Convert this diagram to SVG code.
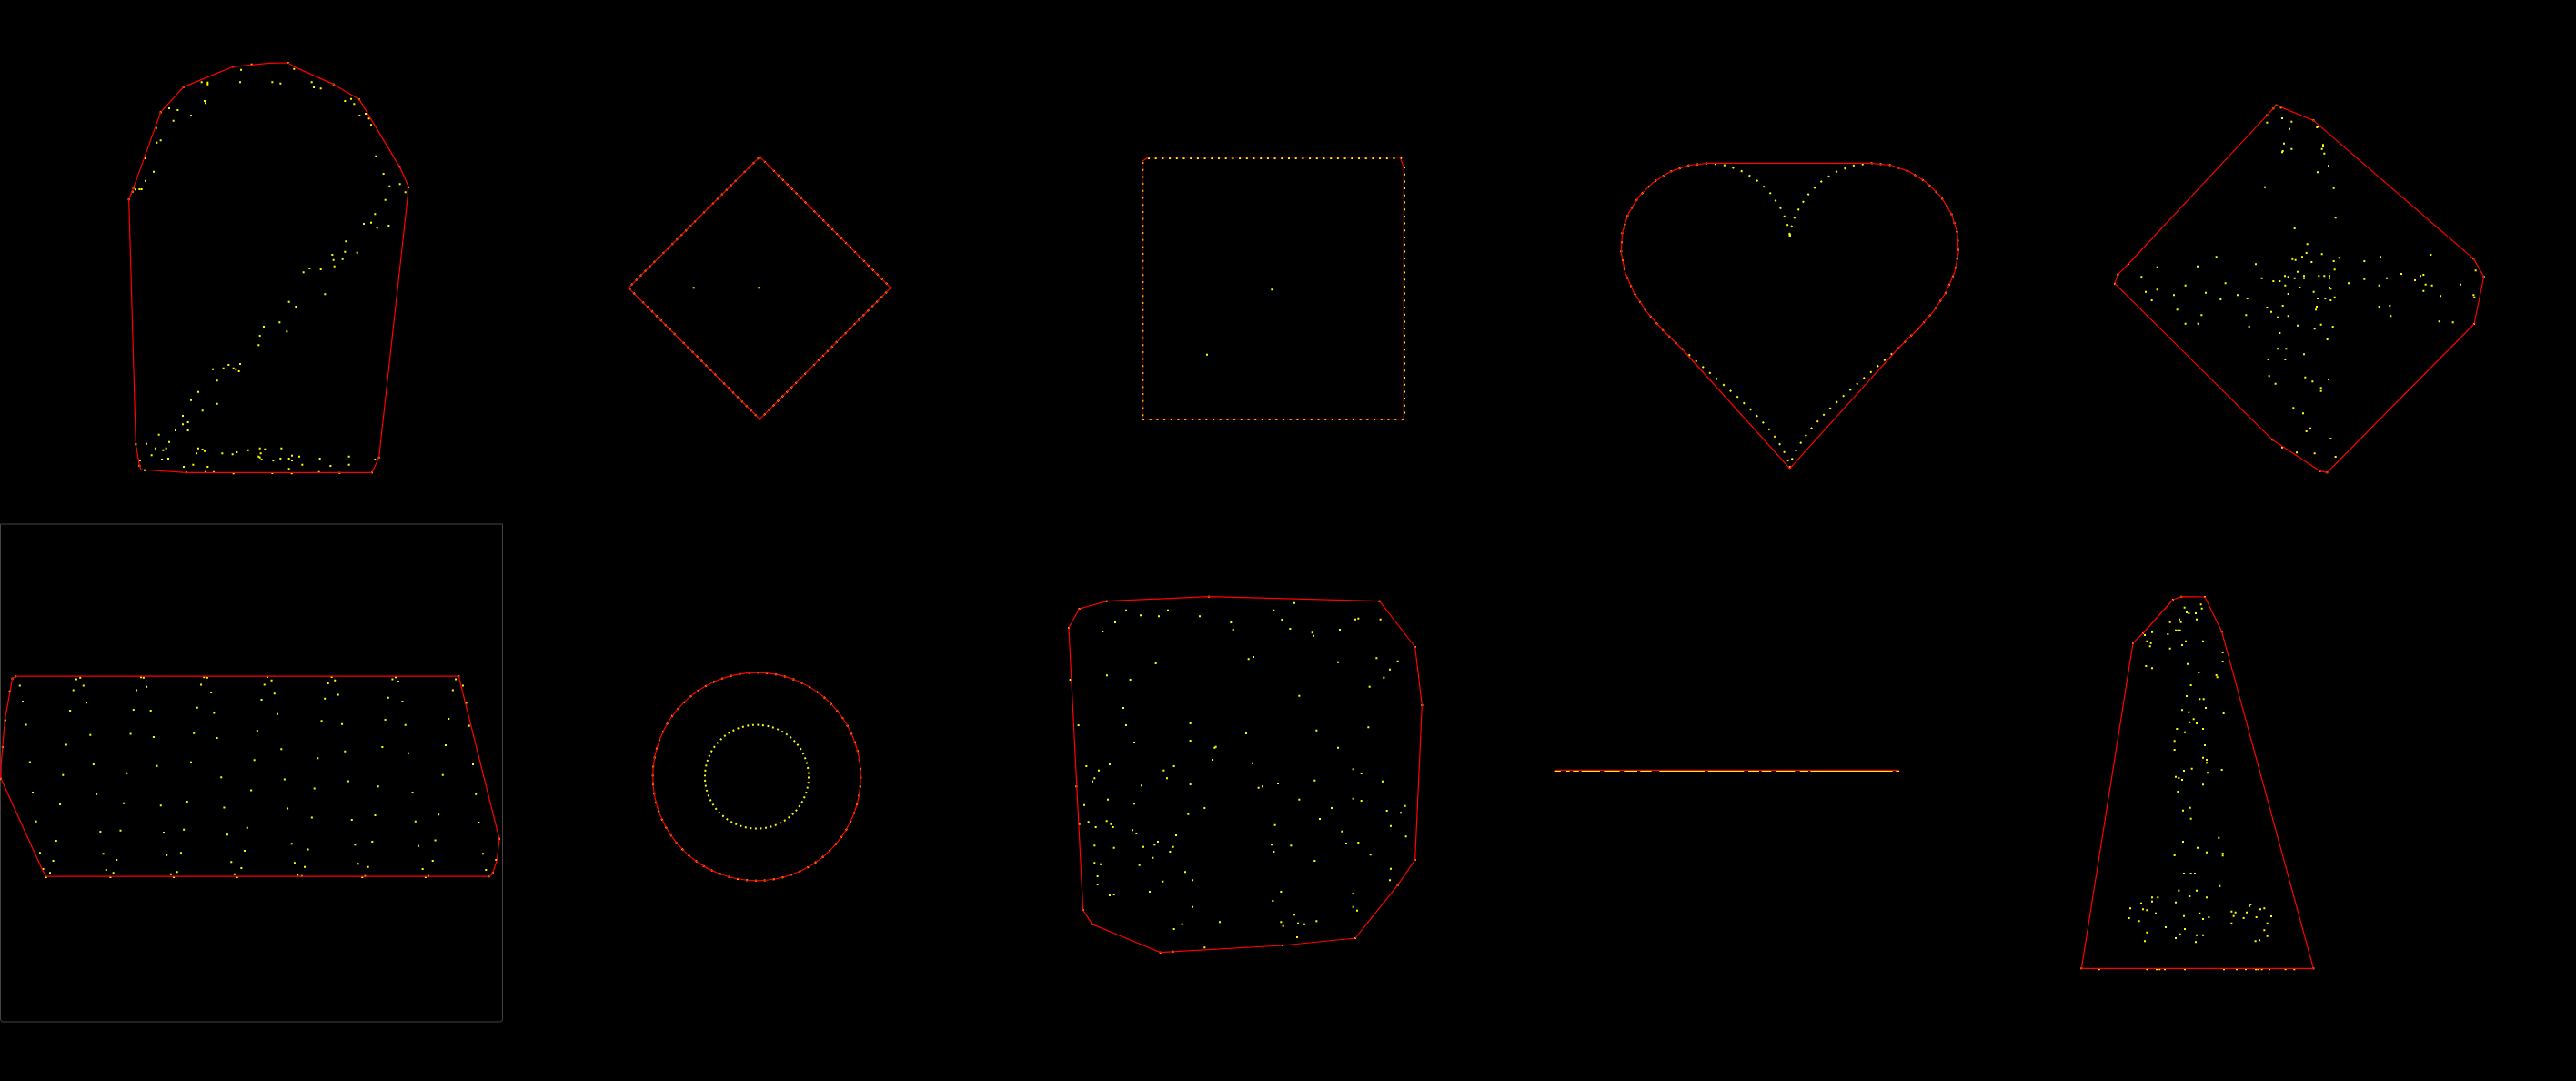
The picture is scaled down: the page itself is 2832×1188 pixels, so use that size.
<svg xmlns="http://www.w3.org/2000/svg" width="2832" height="1188" viewBox="0 0 2832 1188">
<style>
.h{fill:none;stroke:#ff0000;stroke-width:1.2;stroke-linejoin:round}
.p{fill:none;stroke:#ffff00;stroke-width:2;stroke-linecap:square}
.z3 .h{stroke-width:3.6}
.z3 .p{stroke-width:6}
.z28 .h{stroke-width:3.4}
.z28 .p{stroke-width:5.6}
.dl{fill:none;stroke:#ffff00;stroke-width:2}
</style>
<rect x="0" y="0" width="2832" height="1188" fill="#000"/>

<g id="shape-arch" class="z3" transform="translate(120,50) scale(0.3333333)">
<path class="p" d="M435,80h0M432,121h0M538,121h0M565,125h0M610,77h0M668,121h0M675,138h0M698,142h0M305,121h0M325,122h0M325,128h0M315,183h0M318,190h0M198,207h0M226,213h0M270,231h0M212,248h0M155,272h0M170,313h0M157,320h0M118,372h0M147,416h0M120,446h0M87,475h0M100,474h0M107,474h0M77,482h0M778,183h0M798,176h0M808,193h0M826,231h0M846,225h0M857,241h0M864,262h0M880,365h0M905,423h0M925,464h0M959,457h0M977,484h0M911,509h0M877,556h0M840,588h0M864,584h0M884,601h0M922,594h0M781,646h0M736,690h0M778,680h0M818,683h0M740,707h0M770,704h0M743,728h0M661,735h0M641,748h0M698,738h0M712,820h0M593,845h0M616,861h0M562,913h0M586,943h0M510,927h0M497,957h0M493,988h0M432,1050h0M394,1053h0M377,1064h0M410,1064h0M418,1067h0M428,1074h0M342,1067h0M356,1105h0M294,1142h0M270,1169h0M356,1181h0M308,1204h0M243,1221h0M260,1242h0M243,1249h0M219,1269h0M260,1269h0M164,1283h0M198,1307h0M123,1313h0M153,1328h0M178,1334h0M188,1328h0M140,1351h0M174,1365h0M195,1362h0M102,1368h0M246,1389h0M277,1382h0M325,1389h0M294,1328h0M308,1332h0M315,1337h0M288,1345h0M373,1345h0M407,1348h0M421,1341h0M458,1334h0M497,1328h0M514,1331h0M500,1345h0M493,1355h0M497,1358h0M503,1365h0M541,1368h0M568,1328h0M565,1362h0M593,1362h0M603,1352h0M603,1368h0M627,1355h0M637,1382h0M593,1396h0M695,1362h0M730,1386h0M791,1355h0M791,1382h0M877,1365h0M760,1409h0M538,1410h0M410,1411h0M318,1406h0M345,1406h0M692,1406h0M602,1411h0M65,508h0M80,470h0M170,220h0M245,137h0M408,70h0M470,62h0M590,57h0M740,128h0M825,178h0M958,400h0M987,467h0M890,1358h0M867,1408h0M255,1408h0M117,1400h0M100,1385h0M88,1315h0"/>
<path class="h" d="M65,508L80,470L170,220L245,137L408,70L528,58L590,57L610,70L740,128L825,178L958,400L985,460L985,495L890,1358L867,1408L255,1408L105,1398L100,1385L88,1315Z"/>
</g>

<g id="shape-diamond">
<path class="dl" stroke-dasharray="2 5" d="M835.3,172.3L979.3,316.3L835.3,460.7L691,316.3Z"/>
<path class="h" d="M835.3,172.3L979.3,316.3L835.3,460.7L691,316.3Z"/>
<path class="p" d="M762.7,316.3h0M834.3,316.3h0"/>
</g>

<g id="shape-square">
<path class="dl" stroke-dasharray="2 5.7" d="M1256.3,178V461M1262,174H1543M1544,183V461M1256,461H1544"/>
<path class="h" d="M1255.7,460.7V177.3L1262.7,172.7H1539L1543.3,183.3V460.7Z"/>
<path class="p" d="M1398.3,318.3h0M1327,389.7h0"/>
</g>

<g id="shape-heart">
<path class="dl" stroke-dasharray="2 8" d="M1967.7,259.6L1967.9,257.2L1969.2,250.5L1972.5,240.1L1978.7,227.2L1988.2,213.4L2001.1,200.3L2017.3,189.5L2036.2,182.1L2056.9,179.3L2078.3,181.5L2099.1,188.6L2117.9,200.4L2133.7,216.1L2145.3,234.9L2151.9,255.8L2153.1,277.7L2148.7,299.8L2139.1,321.6L2125,342.9L2107.2,363L2087.1,382.5L2065.8,401.1L2044.7,419.2L2024.9,436.6L2007.5,453.2L1993.1,468.6L1982.2,482.6L1974.7,494.9L1970.2,504.4L1968.2,511.2L1967.7,514.8L1967.2,511.2L1965.2,504.4L1960.7,494.9L1953.2,482.6L1942.3,468.6L1927.9,453.2L1910.5,436.6L1890.7,419.2L1869.6,401.1L1848.3,382.5L1828.2,363L1810.4,342.9L1796.3,321.6L1786.7,299.8L1782.3,277.7L1783.5,255.8L1790.1,234.9L1801.7,216.1L1817.5,200.4L1836.3,188.6L1857.1,181.5L1878.5,179.3L1899.2,182.1L1918.1,189.5L1934.3,200.3L1947.2,213.4L1956.7,227.2L1962.9,240.1L1966.2,250.5L1967.5,257.2L1967.7,259.6"/>
<path class="p" d="M1967.7,258h0M1967.7,259.6h0M1967.7,513.3h0"/>
<path class="h" d="M1878.5,179.3L2056.9,179.3L2078.3,181.5L2099.1,188.6L2117.9,200.4L2133.7,216.1L2145.3,234.9L2151.9,255.8L2153.1,277.7L2148.7,299.8L2139.1,321.6L2125,342.9L2107.2,363L2087.1,382.5L1967.7,514.8L1848.3,382.5L1828.2,363L1810.4,342.9L1796.3,321.6L1786.7,299.8L1782.3,277.7L1783.5,255.8L1790.1,234.9L1801.7,216.1L1817.5,200.4L1836.3,188.6L1857.1,181.5Z"/>
</g>

<g id="shape-cross" class="z3" transform="translate(2310,100) scale(0.3333333)">
<path class="p" d="M547,80h0M547,104h0M597,90h0M628,101h0M621,125h0M712,120h0M718,117h0M603,173h0M628,191h0M597,202h0M599,198h0M732,178h0M732,183h0M728,191h0M736,206h0M750,247h0M714,268h0M540,317h0M767,320h0M773,418h0M638,453h0M680,505h0M677,534h0M728,538h0M631,554h0M641,557h0M663,547h0M694,564h0M767,561h0M785,550h0M770,589h0M868,561h0M921,547h0M1087,540h0M380,547h0M510,571h0M318,578h0M185,581h0M133,613h0M530,617h0M568,627h0M589,627h0M606,610h0M617,613h0M638,617h0M648,596h0M669,610h0M669,617h0M718,610h0M736,610h0M753,610h0M753,617h0M816,634h0M868,620h0M942,617h0M990,603h0M1053,610h0M1063,606h0M1035,624h0M1070,638h0M1091,641h0M1063,659h0M1185,638h0M1119,676h0M1228,673h0M1231,680h0M1235,592h0M917,641h0M917,711h0M952,708h0M955,742h0M1115,760h0M1160,763h0M278,641h0M410,634h0M185,655h0M147,662h0M167,690h0M240,673h0M345,665h0M394,687h0M450,673h0M482,684h0M251,721h0M331,739h0M278,767h0M320,767h0M478,739h0M488,777h0M607,641h0M655,648h0M617,669h0M701,662h0M753,648h0M757,652h0M714,684h0M739,684h0M757,690h0M770,680h0M711,711h0M708,721h0M599,708h0M547,714h0M561,728h0M582,746h0M617,742h0M648,773h0M725,770h0M704,784h0M764,777h0M589,798h0M746,819h0M582,850h0M610,850h0M669,868h0M551,885h0M607,885h0M554,940h0M575,965h0M673,944h0M697,958h0M750,951h0M725,979h0M725,989h0M634,1045h0M666,1063h0M690,1112h0M677,1122h0M757,1146h0M645,1192h0M704,1195h0M773,1206h0M597,1175h0M578,47h0M568,58h0M593,55h0M700,97h0M1228,553h0M1262,612h0M1230,768h0M745,1258h0M722,1253h0M565,1150h0M45,635h0M55,605h0M90,570h0"/>
<path class="h" d="M578,47L700,97L1228,553L1262,612L1230,768L745,1258L722,1253L565,1150L45,635L55,605L90,570Z"/>
</g>

<g id="panel-frame">
<path d="M0.5,576H552.5V1120Q552.5,1123 549.5,1123H3.5Q0.5,1123 0.5,1120Z" fill="none" stroke="#444" stroke-width="1"/>
</g>

<g id="shape-parallelogram" class="z28" transform="translate(0,570) scale(0.3571429)">
<path class="p" d="M235,494h0M247,489h0M434,488h0M442,489h0M628,488h0M638,489h0M823,487h0M836,498h0M1021,487h0M1031,498h0M1208,494h0M1218,488h0M1226,501h0M1403,494h0M61,514h0M257,514h0M226,528h0M420,528h0M451,517h0M619,511h0M650,535h0M814,511h0M845,538h0M1010,507h0M1041,542h0M1394,528h0M1425,514h0M70,563h0M266,566h0M216,591h0M411,588h0M464,591h0M607,582h0M659,598h0M805,557h0M854,601h0M1000,554h0M1195,551h0M1239,563h0M1434,566h0M80,634h0M278,666h0M402,662h0M473,672h0M597,660h0M668,675h0M792,653h0M990,622h0M1053,632h0M1186,619h0M1248,635h0M1381,616h0M1443,638h0M8,703h0M204,696h0M866,709h0M1062,716h0M1177,703h0M1257,722h0M1372,697h0M92,749h0M288,756h0M483,761h0M588,750h0M783,743h0M978,737h0M1456,756h0M194,789h0M390,783h0M681,796h0M876,802h0M1072,808h0M1363,789h0M101,843h0M297,848h0M773,836h0M968,830h0M1164,824h0M1270,843h0M1465,848h0M185,879h0M381,876h0M495,883h0M576,871h0M690,889h0M885,892h0M111,932h0M309,963h0M371,960h0M504,966h0M566,957h0M700,972h0M761,951h0M960,920h0M1083,927h0M1155,913h0M1279,932h0M1350,911h0M1474,935h0M173,991h0M123,1028h0M164,1053h0M318,1031h0M359,1050h0M513,1035h0M557,1028h0M753,1022h0M898,1000h0M948,1018h0M1093,1003h0M1146,994h0M1288,1007h0M1340,990h0M1487,1031h0M154,1090h0M327,1081h0M349,1090h0M526,1094h0M545,1087h0M712,1056h0M743,1075h0M722,1094h0M907,1059h0M938,1072h0M916,1097h0M1102,1062h0M1133,1072h0M1301,1078h0M1332,1053h0M1496,1081h0M1527,1050h0M142,1103h0M340,1103h0M535,1103h0M730,1103h0M929,1100h0M1115,1103h0M1124,1100h0M1310,1103h0M1319,1100h0M1517,1090h0M30,531h0M16,620h0M133,1078h0M1435,567h0M1444,637h0M48,485h0M38,492h0M1412,485h0M1537,985h0M1505,1101h0M3,800h0"/>
<path class="h" d="M48,485L1412,485L1537,985L1530,1050L1515,1095L1505,1101L142,1101L130,1080L3,800L3,760L15,620L38,492Z"/>
</g>

<g id="shape-rings">
<circle class="dl" cx="832" cy="853.6" r="57" stroke-dasharray="1.9 3.696"/>
<circle class="dl" cx="832" cy="853.5" r="114.3" stroke-dasharray="2 7.97"/>
<circle class="h" cx="832" cy="853.5" r="114.3"/>
</g>

<g id="shape-blob" class="z3" transform="translate(1160,640) scale(0.3333333)">
<path class="p" d="M234,92h0M282,109h0M342,112h0M372,92h0M477,112h0M198,132h0M157,162h0M580,132h0M587,156h0M721,92h0M748,123h0M775,153h0M789,68h0M848,166h0M852,176h0M939,156h0M990,122h0M1000,119h0M1073,122h0M332,267h0M638,253h0M654,246h0M933,263h0M1060,250h0M1130,260h0M1104,287h0M1084,314h0M1037,344h0M171,307h0M248,321h0M805,374h0M225,414h0M77,471h0M234,471h0M446,465h0M630,498h0M862,488h0M1033,478h0M261,528h0M446,522h0M526,545h0M530,542h0M933,545h0M519,585h0M651,596h0M103,606h0M144,620h0M180,600h0M358,620h0M392,606h0M369,646h0M130,646h0M123,656h0M285,670h0M446,666h0M671,677h0M684,673h0M735,663h0M856,653h0M983,616h0M1010,630h0M1080,656h0M174,716h0M261,730h0M96,734h0M493,744h0M439,764h0M805,716h0M912,744h0M983,713h0M1010,720h0M1094,753h0M1140,760h0M1154,737h0M873,780h0M110,790h0M134,807h0M170,787h0M184,797h0M191,807h0M255,817h0M268,828h0M399,834h0M725,800h0M946,821h0M1107,803h0M1157,838h0M130,868h0M194,875h0M291,872h0M328,865h0M339,855h0M389,872h0M379,888h0M714,865h0M721,888h0M778,868h0M960,861h0M1000,858h0M1040,898h0M130,925h0M150,929h0M322,908h0M278,932h0M856,918h0M1107,944h0M140,969h0M140,996h0M355,986h0M429,955h0M453,982h0M1104,982h0M180,1032h0M194,1029h0M312,1020h0M453,1070h0M718,1050h0M745,1020h0M983,1026h0M983,1070h0M996,1082h0M392,1143h0M419,1127h0M543,1120h0M745,1120h0M752,1133h0M789,1096h0M801,1124h0M822,1127h0M862,1117h0M798,1170h0M493,1204h0M389,1217h0M750,1197h0M1210,405h0M1187,213h0M1070,62h0M507,47h0M170,62h0M80,87h0M45,150h0M50,321h0M70,673h0M80,797h0M92,1080h0M122,1127h0M347,1220h0M990,1173h0M1130,998h0M1187,915h0"/>
<path class="h" d="M80,87L170,62L507,47L1070,62L1187,213L1210,405L1187,915L1130,998L990,1173L750,1197L347,1220L122,1127L92,1080L45,150Z"/>
</g>

<g id="shape-line" class="z3" transform="translate(1700,820) scale(0.3333333)">
<path class="p" stroke-linecap="butt" style="stroke-width:4" d="M28,82H45M68,82H75M90,82H105M118,82H175M192,82H240M258,82H298M312,82H345M375,82H520M535,82H650M668,82H700M712,82H740M760,82H818M838,82H862M873,82H1140M1155,82H1162"/>
<path class="h" d="M28,79H1162"/>
</g>

<g id="shape-bell" class="z3" transform="translate(2270,640) scale(0.3333333)">
<path class="p" d="M395,83h0M402,99h0M409,102h0M432,102h0M449,73h0M452,86h0M435,122h0M378,122h0M383,131h0M347,131h0M366,158h0M373,158h0M380,158h0M340,171h0M288,164h0M264,174h0M271,194h0M284,200h0M281,211h0M347,218h0M387,207h0M399,194h0M456,194h0M521,231h0M521,261h0M405,269h0M442,297h0M268,276h0M288,283h0M500,306h0M503,313h0M416,339h0M402,375h0M445,385h0M458,385h0M387,421h0M409,428h0M465,414h0M524,432h0M425,451h0M412,461h0M435,465h0M370,483h0M396,494h0M456,483h0M362,523h0M362,552h0M462,537h0M456,578h0M468,585h0M468,595h0M419,614h0M393,621h0M471,628h0M518,618h0M366,641h0M376,645h0M387,651h0M456,667h0M373,690h0M413,743h0M390,752h0M416,779h0M390,855h0M508,842h0M438,875h0M468,890h0M521,894h0M521,901h0M362,900h0M393,960h0M416,960h0M429,960h0M511,1001h0M376,1016h0M435,1016h0M412,1035h0M468,1039h0M288,1039h0M307,1039h0M288,1052h0M252,1058h0M366,1055h0M216,1075h0M258,1078h0M271,1081h0M300,1091h0M212,1107h0M245,1117h0M393,1100h0M445,1091h0M456,1110h0M475,1104h0M333,1137h0M396,1143h0M271,1154h0M264,1183h0M366,1173h0M380,1160h0M435,1163h0M456,1163h0M432,1186h0M550,1085h0M563,1088h0M557,1100h0M550,1124h0M590,1107h0M600,1088h0M609,1067h0M613,1062h0M632,1104h0M645,1078h0M658,1075h0M681,1101h0M668,1124h0M658,1147h0M668,1166h0M642,1180h0M629,1183h0M113,1276h0M271,1276h0M303,1276h0M313,1276h0M330,1276h0M396,1276h0M525,1276h0M567,1276h0M597,1276h0M630,1276h0M637,1276h0M650,1276h0M675,1276h0M728,1276h0M757,1276h0M820,1273h0M55,1273h0M225,200h0M258,168h0M357,57h0M385,47h0M462,48h0M518,163h0"/>
<path class="h" d="M225,200L258,168L357,57L385,47L462,48L518,163L820,1273L55,1273Z"/>
</g>
</svg>
